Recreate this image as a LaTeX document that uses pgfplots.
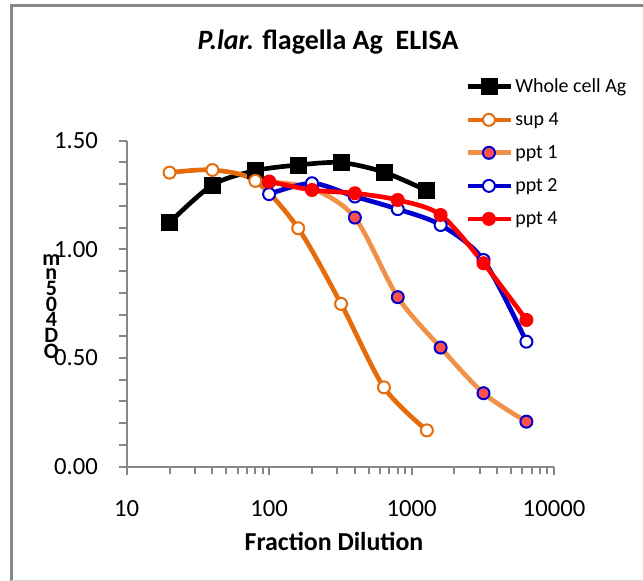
\documentclass[border=0pt]{standalone}
\usepackage{fontspec}
\setmainfont{Carlito}
\usepackage{pgfplots}
\pgfplotsset{compat=1.18}
\definecolor{axgray}{HTML}{868686}
\definecolor{supor}{HTML}{E46C0A}
\definecolor{pptor}{HTML}{F0914A}
\definecolor{pblue}{HTML}{0000CC}
\definecolor{salmon}{HTML}{FF5050}
\begin{document}
\begin{tikzpicture}
\path[use as bounding box] (0,0) rectangle (482.25pt,-435.75pt);
\draw[axgray,line width=2.25pt] (8.6pt,-435.75pt) -- (8.6pt,-4.1pt) -- (482.25pt,-4.1pt);
\draw[black!15,line width=0.75pt] (8.6pt,-435pt) -- (482.25pt,-435pt);
\begin{axis}[
  at={(95.0pt,-350.0pt)}, anchor=south west,
  scale only axis, width=320.5pt, height=244.5pt,
  xmode=log, xmin=10, xmax=10000, ymin=0, ymax=1.5,
  axis x line*=bottom, axis y line*=left,
  axis line style={draw=axgray,line width=1.5pt,-},
  xtick={10,100,1000,10000}, xticklabels={10,100,1000,10000},
  ytick={0,0.5,1,1.5}, yticklabels={0.00,0.50,1.00,1.50},
  minor ytick={0.1,0.2,0.3,0.4,0.6,0.7,0.8,0.9,1.1,1.2,1.3,1.4},
  xtick pos=bottom, ytick pos=left,
  tick align=outside, major tick length=6pt, minor tick length=5.5pt,
  every tick/.style={draw=axgray,line width=1.5pt},
  every major tick/.style={draw=axgray,line width=1.5pt},
  every minor tick/.style={draw=axgray,line width=1.5pt},
  ticklabel style={font=\fontsize{18.5}{21}\selectfont},
  xticklabel style={yshift=-16pt},
  yticklabel style={xshift=-12pt},
  clip=false,
  legend style={at={(0.7917,1.2)}, anchor=north west, draw=none, fill=none,
    font=\fontsize{15}{18}\selectfont, row sep=9.6pt, inner sep=0pt,
    nodes={inner sep=2pt}},
  legend cell align=left,
  legend image code/.code={\draw[#1, mark repeat=2, mark phase=2] plot coordinates {(0pt,0pt)(16pt,0pt)(32pt,0pt)};},
]
\addplot[black, line width=3.5pt, smooth, mark=square*, mark size=6pt, mark options={solid, line width=0.5pt, fill=black}]
  coordinates {(20,1.123)(40,1.296)(80,1.362)(160,1.388)(320,1.399)(640,1.355)(1280,1.270)};
\addlegendentry{Whole cell Ag}
\addplot[supor, line width=3.5pt, smooth, mark=*, mark size=4.5pt, mark options={solid, fill=white, line width=1.5pt}]
  coordinates {(20,1.353)(40,1.365)(80,1.315)(160,1.097)(320,0.749)(640,0.365)(1280,0.167)};
\addlegendentry{sup 4}
\addplot[pptor, line width=3.5pt, smooth, mark=*, mark size=4.5pt, mark options={solid, draw=pblue, fill=salmon, line width=1.5pt}]
  coordinates {(100,1.31)(200,1.28)(400,1.146)(800,0.780)(1600,0.548)(3200,0.338)(6400,0.207)};
\addlegendentry{ppt 1}
\addplot[pblue, line width=3.5pt, smooth, mark=*, mark size=4.5pt, mark options={solid, fill=white, line width=1.5pt}]
  coordinates {(100,1.254)(200,1.304)(400,1.243)(800,1.185)(1600,1.112)(3200,0.951)(6400,0.575)};
\addlegendentry{ppt 2}
\addplot[red, line width=3.5pt, smooth, mark=*, mark size=4.5pt, mark options={solid, fill=red, line width=1.5pt}]
  coordinates {(100,1.312)(200,1.273)(400,1.258)(800,1.227)(1600,1.158)(3200,0.936)(6400,0.675)};
\addlegendentry{ppt 4}
\end{axis}
\node[anchor=base, font=\fontsize{21}{25}\selectfont\bfseries] at (246pt,-37pt) {\textit{P.lar.} flagella Ag\ \ ELISA};
\node[anchor=base, font=\fontsize{19.4}{23}\selectfont\bfseries] at (250.5pt,-412.5pt) {Fraction Dilution};
\node[font=\fontsize{16.5}{10.5}\selectfont\bfseries, align=center, inner sep=0pt] at (38.5pt,-230pt) {m\\n\\5\\0\\4\\D\\O};
\end{tikzpicture}
\end{document}
